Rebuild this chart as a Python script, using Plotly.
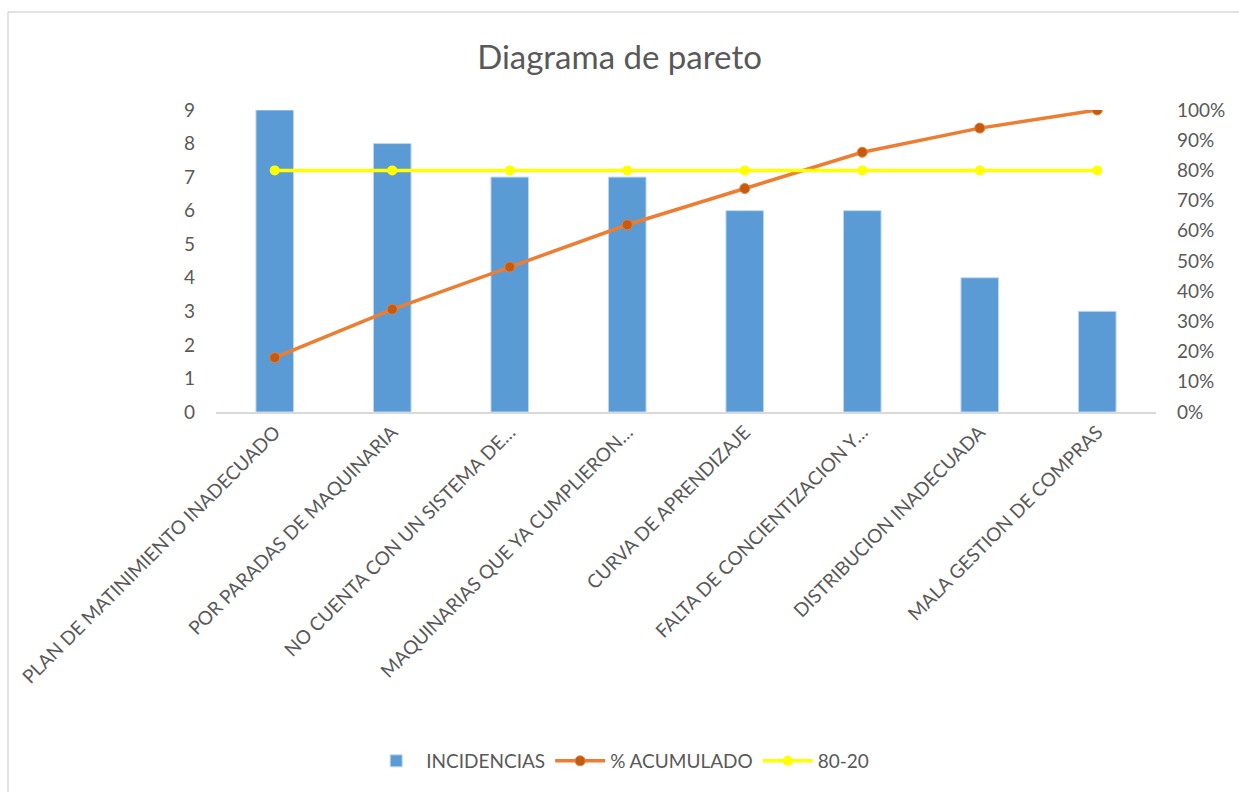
import plotly.graph_objects as go

categorias = [
    "PLAN DE MATINIMIENTO INADECUADO",
    "POR PARADAS DE MAQUINARIA",
    "NO CUENTA CON UN SISTEMA DE…",
    "MAQUINARIAS QUE YA CUMPLIERON…",
    "CURVA DE APRENDIZAJE",
    "FALTA DE CONCIENTIZACION Y…",
    "DISTRIBUCION INADECUADA",
    "MALA GESTION DE COMPRAS",
]
incidencias = [9, 8, 7, 7, 6, 6, 4, 3]
acumulado = [0.18, 0.34, 0.48, 0.62, 0.74, 0.86, 0.94, 1.00]
linea_80_20 = [0.8, 0.8, 0.8, 0.8, 0.8, 0.8, 0.8, 0.8]

izq_ticks = list(range(0, 10))
der_ticks = [i / 10 for i in range(0, 11)]
der_labels = [f"{i * 10}%" for i in range(0, 11)]

FONT = "Lato, 'Open Sans', sans-serif"
GRIS = "#595959"
TXT = 19

fig = go.Figure()
fig.add_trace(go.Bar(
    x=categorias, y=incidencias, name="INCIDENCIAS",
    marker=dict(color="#5B9BD5", line=dict(color="#BDD7EE", width=1)),
    width=0.32,
))
fig.add_trace(go.Scatter(
    x=categorias, y=acumulado, name="% ACUMULADO", yaxis="y2",
    mode="lines+markers",
    line=dict(color="#ED7D31", width=3.5),
    marker=dict(color="#C55A11", size=10, line=dict(color="#ED7D31", width=1)),
))
fig.add_trace(go.Scatter(
    x=categorias, y=linea_80_20, name="80-20", yaxis="y2",
    mode="lines+markers",
    line=dict(color="#FFFF00", width=3.5),
    marker=dict(color="#FFFF00", size=10),
))

W, H = 1239, 792
L, R, T, B = 216, 83, 110, 380
pw, ph = W - L - R, H - T - B

def px_x(x):
    return (x - L) / pw

def px_y(y):
    return (H - B - y) / ph

fig.update_layout(
    width=W, height=H,
    margin=dict(l=L, r=R, t=T, b=B),
    paper_bgcolor="white", plot_bgcolor="white",
    font=dict(family=FONT, color=GRIS, size=TXT),
    title=dict(text="Diagrama de pareto", x=0.5, xanchor="center",
               y=1 - 57 / H, yanchor="middle",
               font=dict(family=FONT, size=33, color=GRIS)),
    bargap=0.68,
    showlegend=True,
    legend=dict(orientation="h", x=0.43, xanchor="center",
                y=px_y(761), yanchor="middle",
                font=dict(family=FONT, size=TXT, color=GRIS),
                itemwidth=50, tracegroupgap=0),
    xaxis=dict(
        tickangle=-45, showgrid=False, showline=True,
        linecolor="#D9D9D9", linewidth=1.5, ticks="",
        tickfont=dict(family=FONT, size=TXT, color=GRIS),
    ),
    yaxis=dict(
        range=[0, 9], tickvals=izq_ticks, showgrid=False,
        zeroline=False, showline=False, ticks="",
        tickfont=dict(family=FONT, size=TXT, color=GRIS),
        ticklabelstandoff=20,
    ),
    yaxis2=dict(
        range=[0, 1], tickvals=der_ticks, ticktext=der_labels,
        overlaying="y", side="right", showgrid=False,
        zeroline=False, showline=False, ticks="",
        tickfont=dict(family=FONT, size=TXT, color=GRIS),
        ticklabelstandoff=20,
    ),
    shapes=[
        dict(type="line", xref="paper", yref="paper",
             x0=px_x(8), x1=px_x(1245), y0=px_y(12), y1=px_y(12),
             line=dict(color="#D9D9D9", width=1.5)),
        dict(type="line", xref="paper", yref="paper",
             x0=px_x(8), x1=px_x(8), y0=px_y(12), y1=px_y(800),
             line=dict(color="#D9D9D9", width=1.5)),
    ],
)

fig.write_html("out.html")
